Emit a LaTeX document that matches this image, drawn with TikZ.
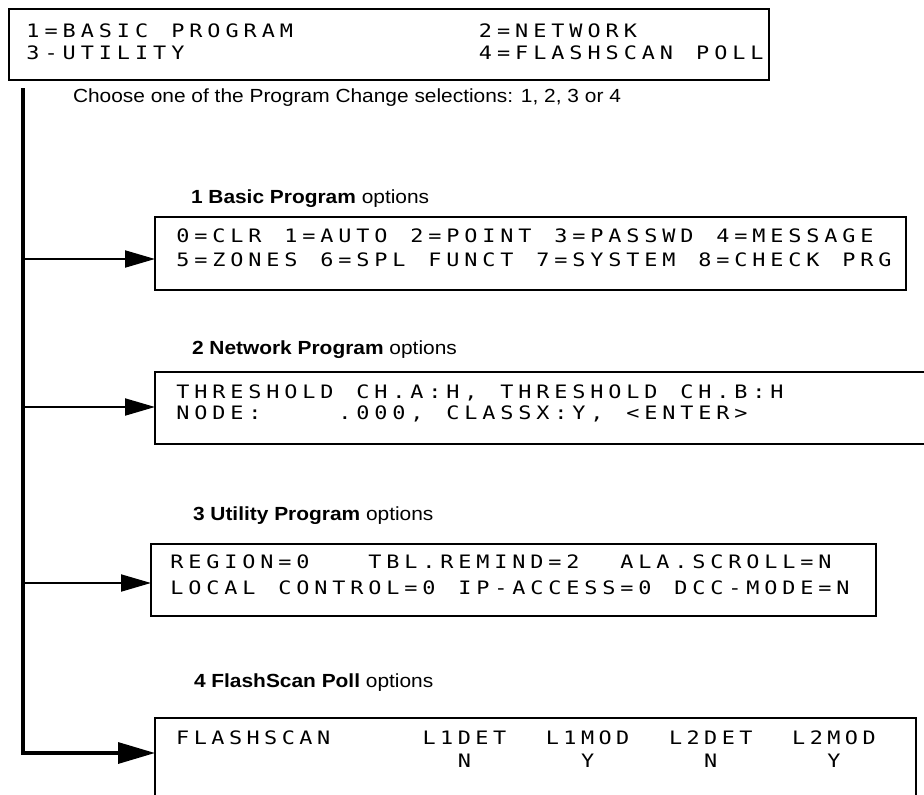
\documentclass[tikz,border=0pt]{standalone}
\usepackage{fontspec}
\setmainfont{Liberation Sans}[FakeStretch=1.1]
\newfontfamily\lcdfont{DejaVu Sans Mono}[FakeStretch=1.18]
\usetikzlibrary{arrows.meta}
\ExplSyntaxOn
\NewDocumentCommand\lcdtext{O{17.8pt}m}
 {
  \str_map_inline:nn {#2}
   {
    \str_if_eq:nnTF {##1} {|}
     { \hbox_to_wd:nn {#1} { } }
     { \hbox_to_wd:nn {#1} { \hfil ##1 \hfil } }
   }
 }
\ExplSyntaxOff
\tikzset{
  lcdbox/.style={draw, line width=2pt, inner sep=0pt, outer sep=0pt, anchor=north west},
  lcdline/.style={anchor=base west, inner sep=0pt, outer sep=0pt, font=\lcdfont\fontsize{18.5}{18.5}\selectfont},
  lbl/.style={anchor=base west, inner sep=0pt, outer sep=0pt, font=\fontsize{19}{20}\selectfont},
  feed/.style={line width=2pt, -{Triangle[length=30pt,width=17pt]}},
  feedlast/.style={line width=3.3pt, -{Triangle[length=37pt,width=21pt]}},
}
\begin{document}
\begin{tikzpicture}[x=1pt,y=-1pt]
\useasboundingbox (0,0) rectangle (924,795);
\clip (0,0) rectangle (924,795);

% main menu box
\node[lcdbox, minimum width=760pt, minimum height=71pt] (menu) at (9,9) {};
\node[lcdline] (menu1) at (24,37) {\lcdtext[18.1pt]{1=BASIC|PROGRAM||||||||||2=NETWORK}};
\node[lcdline] (menu2) at (24,59.5) {\lcdtext[18.1pt]{3-UTILITY||||||||||||||||4=FLASHSCAN|POLL}};

\node[lbl] (choose) at (73,102) {Choose one of the Program Change selections: 1, 2, 3 or 4};

% 1 Basic Program
\node[lbl] (lab1) at (191,203) {\textbf{1 Basic Program} options};
\node[lcdbox, minimum width=751pt, minimum height=73pt] (box1) at (155,217) {};
\node[lcdline] (box1a) at (174,242.5) {\lcdtext[18pt]{0=CLR|1=AUTO|2=POINT|3=PASSWD|4=MESSAGE}};
\node[lcdline] (box1b) at (174,266.5) {\lcdtext[18pt]{5=ZONES|6=SPL|FUNCT|7=SYSTEM|8=CHECK|PRG}};

% 2 Network Program
\node[lbl] (lab2) at (192,354) {\textbf{2 Network Program} options};
\node[lcdbox, minimum width=790pt, minimum height=72pt] (box2) at (155,372) {};
\node[lcdline] (box2a) at (174,398) {\lcdtext[18pt]{THRESHOLD|CH.A:H,|THRESHOLD|CH.B:H}};
\node[lcdline] (box2b) at (174,419.5) {\lcdtext[18pt]{NODE:||||.000,|CLASSX:Y,|<ENTER>}};

% 3 Utility Program
\node[lbl] (lab3) at (193,520) {\textbf{3 Utility Program} options};
\node[lcdbox, minimum width=725pt, minimum height=72pt] (box3) at (151,544) {};
\node[lcdline] (box3a) at (168,568.5) {\lcdtext[18pt]{REGION=0|||TBL.REMIND=2||ALA.SCROLL=N}};
\node[lcdline] (box3b) at (168,594) {\lcdtext[18pt]{LOCAL|CONTROL=0|IP-ACCESS=0|DCC-MODE=N}};

% 4 FlashScan Poll
\node[lbl] (lab4) at (194,687) {\textbf{4 FlashScan Poll} options};
\node[lcdbox, minimum width=761pt, minimum height=100pt] (box4) at (155,718) {};
\node[lcdline] (box4a) at (174,744) {\lcdtext[17.6pt]{FLASHSCAN|||||L1DET||L1MOD||L2DET||L2MOD}};
\node[lcdline] (box4b) at (174,767) {\lcdtext[17.6pt]{||||||||||||||||N||||||Y||||||N||||||Y}};

% connectors
\coordinate (trunktop) at (23,88);
\coordinate (t1) at (23,259);
\coordinate (t2) at (23,407);
\coordinate (t3) at (23,583);
\coordinate (t4) at (23,753);
\draw[feedlast] (trunktop) |- (box4.north west |- t4);
\draw[feed] (t1) -- (t1 -| box1.north west);
\draw[feed] (t2) -- (t2 -| box2.north west);
\draw[feed] (t3) -- (t3 -| box3.north west);
\end{tikzpicture}
\end{document}
